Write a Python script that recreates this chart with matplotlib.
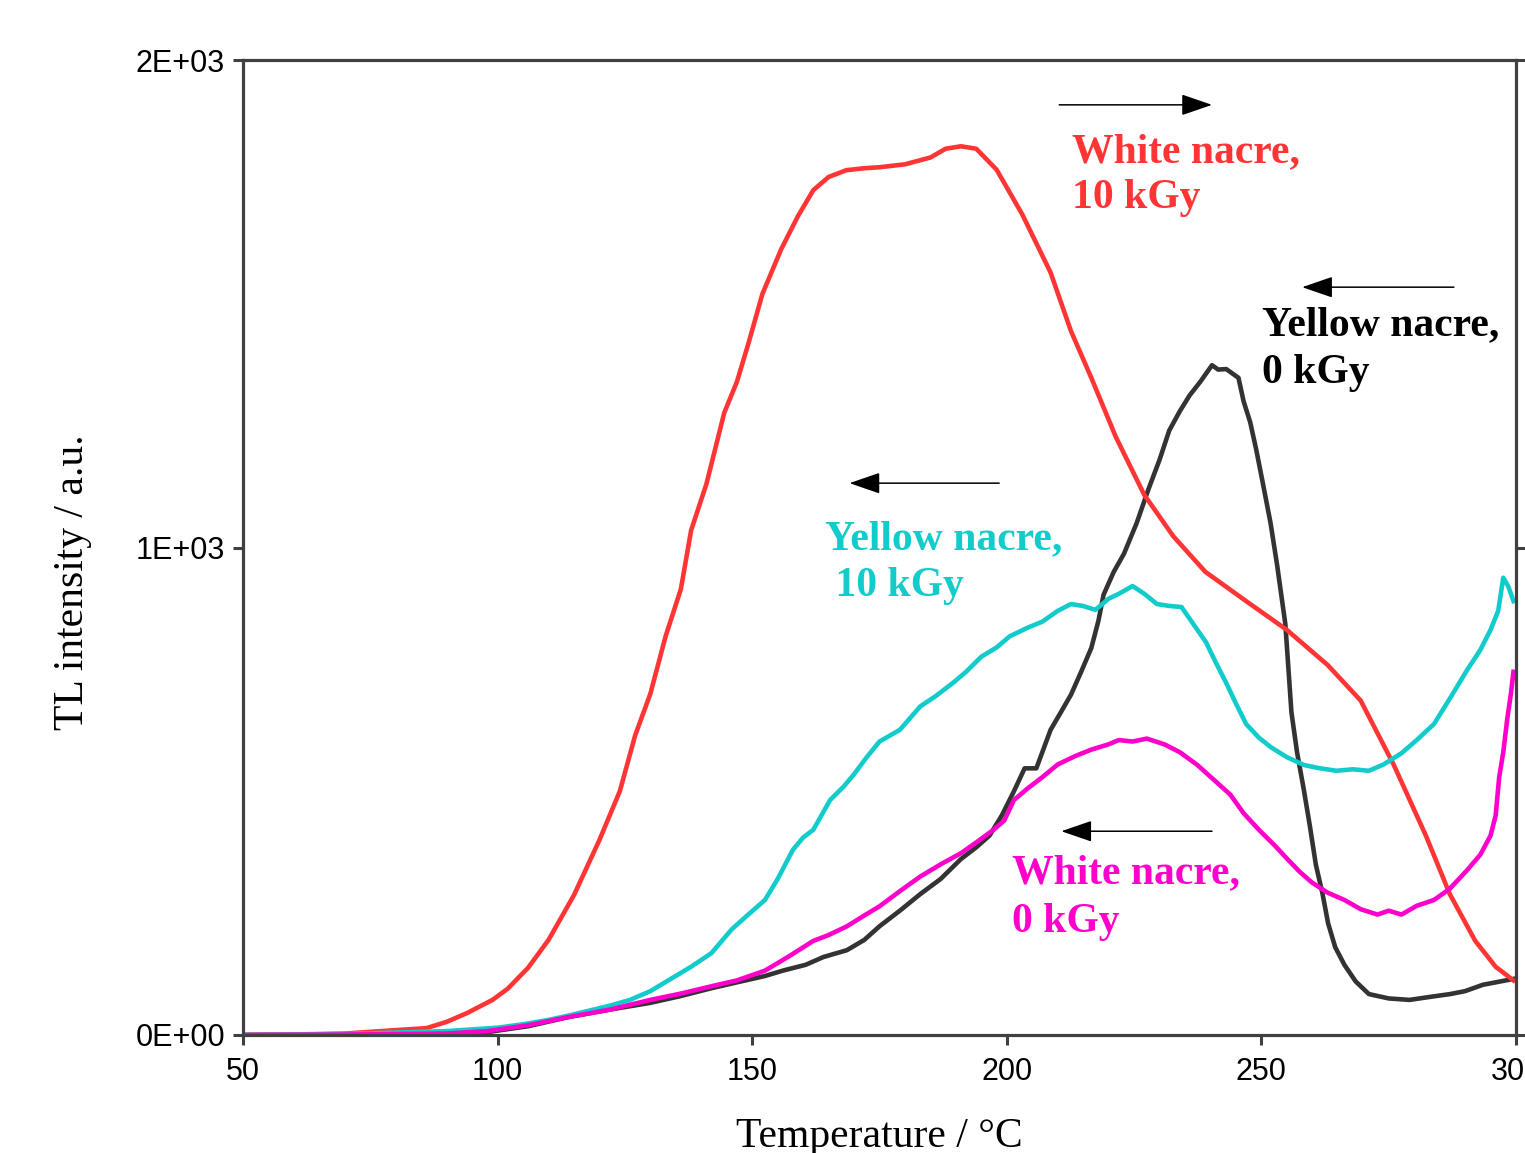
import matplotlib
matplotlib.use("Agg")
import matplotlib.pyplot as plt

# Glow curves, TL intensity (a.u.) vs temperature (°C)
t_white10 = [50, 60, 70, 80, 86, 90, 94, 99, 102, 106, 110, 115, 120, 124, 127, 130,
             133, 136, 138, 141, 144.5, 147, 149.3, 152, 155.7, 159, 162, 165, 168.5,
             172, 175, 180, 185, 188, 191, 194, 198, 203, 208.6, 212.6, 216.6, 221.4,
             227, 232.7, 239, 247, 255, 263, 269.5, 276, 282.3, 287, 292, 296, 299.5]
i_white10 = [0, 1, 3, 10, 14, 27, 45, 72, 95, 138, 195, 287, 400, 500, 614, 700,
             818, 915, 1035, 1130, 1276, 1340, 1420, 1520, 1612, 1680, 1733, 1760, 1774,
             1778, 1780, 1786, 1800, 1818, 1823, 1818, 1775, 1684, 1564, 1444, 1348, 1227,
             1108, 1023, 950, 890, 831, 759, 686, 554, 409, 289, 193, 140, 112]

t_yellow10 = [50, 70, 90, 100, 105, 110, 114, 118, 122, 126, 130, 134, 138, 142, 146,
              149, 152.5, 155, 158, 160, 162, 165.3, 168, 170, 172.5, 175, 179, 183, 186,
              189.4, 192, 195, 198, 200.6, 204, 207, 210, 212.6, 215, 217.4, 220, 222,
              224.7, 227, 229.5, 232, 234.3, 236.5, 239.1, 241, 243.1, 245, 247, 249.5,
              251.9, 255, 258.3, 261, 264.7, 268, 271.1, 274, 277.5, 280.5, 283.9, 287,
              290.3, 293, 295, 296.5, 297.5, 298.5, 299.5]
i_yellow10 = [0, 2, 8, 15, 22, 31, 40, 50, 60, 72, 90, 115, 140, 168, 217,
              245, 277, 320, 380, 405, 421, 482, 510, 535, 570, 602, 626, 674, 695,
              722, 745, 776, 795, 818, 835, 848, 870, 884, 880, 872, 895, 905,
              921, 905, 884, 880, 878, 845, 806, 765, 722, 680, 638, 610,
              590, 570, 554, 548, 542, 545, 542, 555, 578, 605, 638, 690,
              747, 790, 831, 870, 938, 920, 890]

t_yellow0 = [50, 70, 90, 98, 106, 114, 122, 130, 136, 142, 147, 152.5, 156, 160.5, 164,
             168.6, 172, 175, 179, 183, 187, 191, 194, 196.6, 199, 201.4, 203.5, 205.8,
             208.6, 210.5, 212.6, 214.6, 216.6, 218, 219, 221, 223, 225.5, 227.8, 230,
             231.9, 234, 235.9, 238, 240.3, 241.5, 243.1, 245.5, 246.5, 247.8, 249, 250.3,
             251.8, 253.1, 254.7, 255.9, 257, 258.3, 259.5, 260.7, 262, 263.1, 264.5,
             266.3, 268.5, 271.1, 275, 279.1, 283, 287.1, 290, 293.5, 296, 299.5]
i_yellow0 = [0, 1, 3, 6, 18, 37, 52, 66, 80, 96, 108, 121, 132, 144, 160,
             174, 195, 223, 255, 289, 320, 361, 385, 409, 450, 500, 547, 547,
             626, 660, 698, 745, 794, 850, 903, 950, 987, 1050, 1119, 1180,
             1240, 1280, 1312, 1340, 1374, 1365, 1366, 1348, 1300, 1257, 1200, 1131,
             1050, 963, 843, 662, 580, 505, 430, 349, 290, 229, 180,
             144, 110, 84, 75, 72, 78, 84, 90, 103, 108, 115]

t_white0 = [50, 70, 90, 98, 106, 114, 122, 130, 136, 142, 147, 152.5, 157, 162, 165,
            168.6, 172, 175, 179, 183, 187, 191, 194, 197.4, 199.5, 201.4, 204, 207,
            210, 213.4, 216.5, 219.9, 222, 224.7, 227.5, 231, 234, 237.4, 240.5, 243.9,
            246.5, 249.5, 252.5, 255.1, 257.5, 259.9, 263, 266.3, 269.5, 272.8, 275,
            277.5, 280.5, 283.9, 287, 290.3, 293, 295, 296, 296.7, 297.5, 298.3, 299, 299.5]
i_white0 = [0, 1, 3, 8, 20, 37, 52, 72, 85, 100, 112, 132, 160, 193, 205,
            223, 245, 264, 295, 325, 350, 373, 395, 421, 440, 482, 505, 529,
            555, 572, 585, 596, 605, 602, 608, 596, 580, 554, 525, 493,
            455, 421, 390, 361, 335, 313, 292, 277, 258, 247, 255,
            247, 265, 277, 300, 337, 370, 409, 450, 529, 580, 650, 700, 745]

y_ticks = [0, 1000, 2000]
y_ticklabels = ["0E+00", "1E+03", "2E+03"]
x_ticks = [50, 100, 150, 200, 250, 300]

RED = "#ff3535"
CYAN = "#12cccc"
MAGENTA = "#ff00cc"
DARK = "#333333"

fig = plt.figure(figsize=(15.25, 11.53), dpi=100)
ax = fig.add_axes([243 / 1525, 118 / 1153, (1516 - 243) / 1525, (1035 - 60) / 1153])

ax.plot(t_yellow0, i_yellow0, color=DARK, lw=3.3, solid_joinstyle="round")
ax.plot(t_white10, i_white10, color=RED, lw=3.3, solid_joinstyle="round")
ax.plot(t_yellow10, i_yellow10, color=CYAN, lw=3.3, solid_joinstyle="round")
ax.plot(t_white0, i_white0, color=MAGENTA, lw=3.3, solid_joinstyle="round")

ax.set_xlim(50, 300)
ax.set_ylim(0, 2000)
ax.set_xticks(x_ticks)
ax.set_yticks(y_ticks)
ax.set_yticklabels(y_ticklabels)

for s in ax.spines.values():
    s.set_color("#404040")
    s.set_linewidth(2.3)
ax.tick_params(direction="out", length=7, width=2.2, color="#404040",
               labelsize=22, right=True, labelright=False)
ax.tick_params(axis="x", pad=9)
ax.tick_params(axis="y", pad=6)
for lab in ax.get_xticklabels() + ax.get_yticklabels():
    lab.set_fontfamily("Liberation Sans")

ax.set_xlabel("Temperature / °C", family="Liberation Serif", fontsize=30, labelpad=22)
ax.set_ylabel("TL intensity / a.u.", family="Liberation Serif", fontsize=30)
ax.yaxis.set_label_coords(-0.119, 0.464)

# heating-direction arrows
arrow_kw = dict(arrowstyle="-|>,head_length=1.6,head_width=0.55", color="black",
                lw=1.1, mutation_scale=12, shrinkA=0, shrinkB=0)
ax.annotate("", xy=(240.3, 1908), xytext=(210.3, 1908), arrowprops=arrow_kw)
ax.annotate("", xy=(258.0, 1534), xytext=(287.8, 1534), arrowprops=arrow_kw)
ax.annotate("", xy=(169.1, 1132), xytext=(198.5, 1132), arrowprops=arrow_kw)
ax.annotate("", xy=(210.7, 418), xytext=(240.3, 418), arrowprops=arrow_kw)

lbl = dict(family="Liberation Serif", fontweight="bold", fontsize=30,
           ha="left", va="baseline")
ax.text(212.9, 1791, "White nacre,", color=RED, **lbl)
ax.text(212.9, 1696, "10 kGy", color=RED, **lbl)
ax.text(250.2, 1436, "Yellow nacre,", color="black", **lbl)
ax.text(250.2, 1337, "0 kGy", color="black", **lbl)
ax.text(164.2, 997, "Yellow nacre,", color=CYAN, **lbl)
ax.text(164.2, 900, " 10 kGy", color=CYAN, **lbl)
ax.text(201.1, 312, "White nacre,", color=MAGENTA, **lbl)
ax.text(201.1, 211, "0 kGy", color=MAGENTA, **lbl)

fig.savefig("out.png", dpi=100)
